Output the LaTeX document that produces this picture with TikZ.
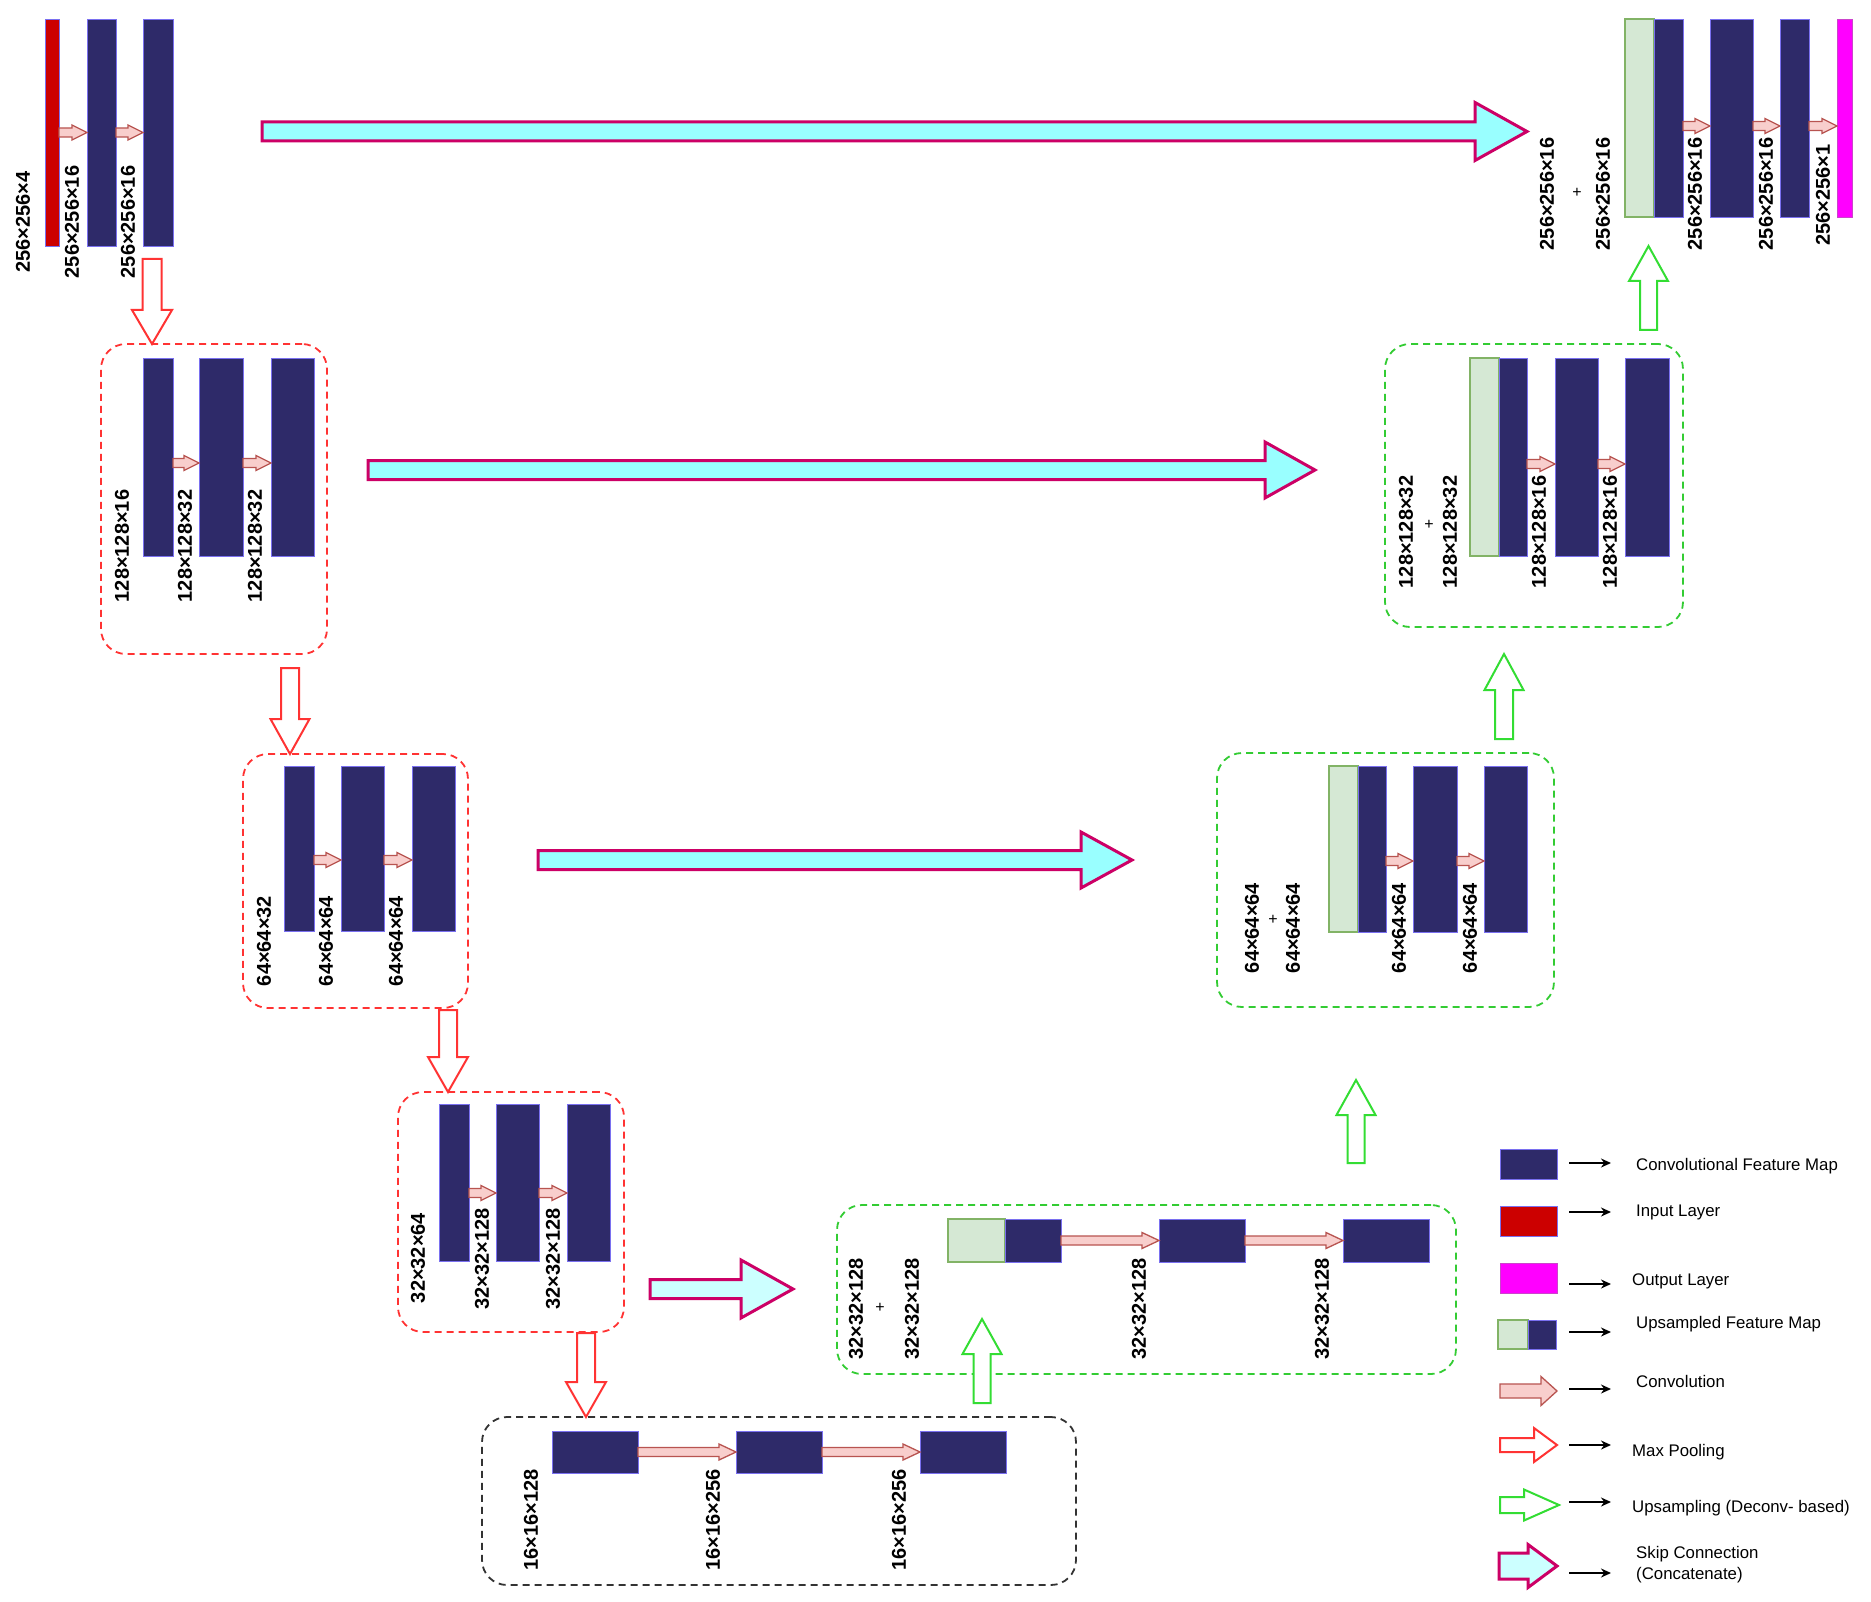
\documentclass[tikz,border=0pt]{standalone}
\usepackage{fontspec}
\setmainfont{Liberation Sans}
\usetikzlibrary{calc,arrows.meta}
\definecolor{navy}{HTML}{2E2A69}
\definecolor{fmline}{HTML}{7A70F0}
\definecolor{inred}{HTML}{CC0000}
\definecolor{outmag}{HTML}{FF00FF}
\definecolor{outline}{HTML}{CC44CC}
\definecolor{upfill}{HTML}{D5E8D4}
\definecolor{upline}{HTML}{82B366}
\definecolor{convfill}{HTML}{F8CECC}
\definecolor{convline}{HTML}{B85450}
\definecolor{poolline}{HTML}{FF3333}
\definecolor{upsline}{HTML}{33DD33}
\definecolor{skipline}{HTML}{CC0066}
\definecolor{skipfill}{HTML}{99FFFF}
\definecolor{skipfillb}{HTML}{CCFFFF}
\definecolor{boxred}{HTML}{FF3333}
\definecolor{boxgreen}{HTML}{33CC33}
\definecolor{boxblack}{HTML}{333333}
% block arrows: style, from, to(tip), shaft half, head half, head length
\newcommand\rarrow[6]{\draw[#1] let \p1=(#2), \p2=(#3) in (\x1,\y1+#4pt) -- (\x2-#6pt,\y1+#4pt) -- (\x2-#6pt,\y1+#5pt) -- (\x2,\y1) -- (\x2-#6pt,\y1-#5pt) -- (\x2-#6pt,\y1-#4pt) -- (\x1,\y1-#4pt) -- cycle;}
\newcommand\darrow[6]{\draw[#1] let \p1=(#2), \p2=(#3) in (\x1-#4pt,\y1) -- (\x1-#4pt,\y2+#6pt) -- (\x1-#5pt,\y2+#6pt) -- (\x1,\y2) -- (\x1+#5pt,\y2+#6pt) -- (\x1+#4pt,\y2+#6pt) -- (\x1+#4pt,\y1) -- cycle;}
\newcommand\uarrow[6]{\draw[#1] let \p1=(#2), \p2=(#3) in (\x1-#4pt,\y1) -- (\x1-#4pt,\y2-#6pt) -- (\x1-#5pt,\y2-#6pt) -- (\x1,\y2) -- (\x1+#5pt,\y2-#6pt) -- (\x1+#4pt,\y2-#6pt) -- (\x1+#4pt,\y1) -- cycle;}
\tikzset{
  bar/.style={draw=fmline, line width=0.8pt, inner sep=0pt, outer sep=0pt, anchor=north west},
  fm/.style={bar, fill=navy},
  inl/.style={bar, fill=inred},
  outl/.style={bar, fill=outmag, draw=outline},
  upm/.style={bar, fill=upfill, draw=upline, line width=1.2pt},
  sz/.style 2 args={minimum width=#1pt, minimum height=#2pt},
  grp/.style={draw, dash pattern=on 7pt off 5pt, line width=1.8pt, rounded corners=25pt, anchor=north west, inner sep=0pt, outer sep=0pt},
  redbox/.style={grp, draw=boxred},
  greenbox/.style={grp, draw=boxgreen},
  blackbox/.style={grp, draw=boxblack},
  convarr/.style={draw=convline, fill=convfill, line width=1.3pt},
  poolarr/.style={draw=poolline, fill=white, line width=2pt},
  upsarr/.style={draw=upsline, fill=white, line width=2pt},
  skiparr/.style={draw=skipline, fill=skipfill, line width=3pt},
  skiparrb/.style={draw=skipline, fill=skipfillb, line width=3pt},
  lbl/.style={rotate=90, inner sep=0pt, font=\bfseries\fontsize{20}{20}\selectfont},
  plus/.style={inner sep=0pt, font=\fontsize{16}{16}\selectfont},
  legtxt/.style={anchor=west, inner sep=0pt, font=\fontsize{16.8}{21}\selectfont, align=left},
  legarr/.style={-{Stealth[length=10pt,width=9pt]}, line width=1.8pt}
}
\begin{document}
\begin{tikzpicture}[x=1pt,y=-1pt]
\useasboundingbox (0,0) rectangle (1871,1602);
\fill[white] (0,0) rectangle (1871,1602);
% group boxes
\node[redbox, sz={226}{310}] (box1) at (101,344) {};
\node[redbox, sz={225}{254}] (box2) at (243,754) {};
\node[redbox, sz={226}{240}] (box3) at (398,1092) {};
\node[blackbox, sz={594}{168}] (box4) at (482,1417) {};
\node[greenbox, sz={619}{169}] (box5) at (837,1205) {};
\node[greenbox, sz={337}{254}] (box6) at (1217,753) {};
\node[greenbox, sz={298}{283}] (box7) at (1385,344) {};
% top left
\node[inl, sz={14}{227}] (in) at (45,19) {};
\node[fm, sz={29}{227}] (c01) at (87,19) {};
\node[fm, sz={30}{227}] (c02) at (143,19) {};
\node[lbl] (l01) at (23,222) {256×256×4};
\node[lbl] (l02) at (72,222) {256×256×16};
\node[lbl] (l03) at (128,222) {256×256×16};
% box1
\node[fm, sz={30}{198}] (b11) at (143,358) {};
\node[fm, sz={44}{198}] (b12) at (199,358) {};
\node[fm, sz={43}{198}] (b13) at (271,358) {};
\node[lbl] (l11) at (122,546) {128×128×16};
\node[lbl] (l12) at (185,546) {128×128×32};
\node[lbl] (l13) at (255,546) {128×128×32};
% box2
\node[fm, sz={30}{165}] (b21) at (284,766) {};
\node[fm, sz={43}{165}] (b22) at (341,766) {};
\node[fm, sz={43}{165}] (b23) at (412,766) {};
\node[lbl] (l21) at (264,941) {64×64×32};
\node[lbl] (l22) at (326,941) {64×64×64};
\node[lbl] (l23) at (396,941) {64×64×64};
% box3
\node[fm, sz={30}{157}] (b31) at (439,1104) {};
\node[fm, sz={43}{157}] (b32) at (496,1104) {};
\node[fm, sz={43}{157}] (b33) at (567,1104) {};
\node[lbl] (l31) at (418,1258) {32×32×64};
\node[lbl] (l32) at (482,1259) {32×32×128};
\node[lbl] (l33) at (553,1259) {32×32×128};
% box4
\node[fm, sz={86}{42}] (b41) at (552,1431) {};
\node[fm, sz={86}{42}] (b42) at (736,1431) {};
\node[fm, sz={86}{42}] (b43) at (920,1431) {};
\node[lbl] (l41) at (531,1520) {16×16×128};
\node[lbl] (l42) at (713,1520) {16×16×256};
\node[lbl] (l43) at (899,1520) {16×16×256};
% box5
\node[upm, sz={57}{43}] (u51) at (948,1219) {};
\node[fm, sz={56}{43}] (b51) at (1005,1219) {};
\node[fm, sz={86}{43}] (b52) at (1159,1219) {};
\node[fm, sz={86}{43}] (b53) at (1343,1219) {};
\node[lbl] (l51) at (856,1309) {32×32×128};
\node[plus] (pl5) at (880,1308) {+};
\node[lbl] (l52) at (912,1309) {32×32×128};
\node[lbl] (l53) at (1139,1309) {32×32×128};
\node[lbl] (l54) at (1322,1309) {32×32×128};
% box6
\node[upm, sz={29}{166}] (u61) at (1329,766) {};
\node[fm, sz={28}{166}] (b61) at (1358,766) {};
\node[fm, sz={44}{166}] (b62) at (1413,766) {};
\node[fm, sz={43}{166}] (b63) at (1484,766) {};
\node[lbl] (l61) at (1252,928) {64×64×64};
\node[plus] (pl6) at (1273,920) {+};
\node[lbl] (l62) at (1293,928) {64×64×64};
\node[lbl] (l63) at (1399,928) {64×64×64};
\node[lbl] (l64) at (1470,928) {64×64×64};
% box7
\node[upm, sz={29}{198}] (u71) at (1470,358) {};
\node[fm, sz={28}{198}] (b71) at (1499,358) {};
\node[fm, sz={43}{198}] (b72) at (1555,358) {};
\node[fm, sz={44}{198}] (b73) at (1625,358) {};
\node[lbl] (l71) at (1406,532) {128×128×32};
\node[plus] (pl7) at (1429,525) {+};
\node[lbl] (l72) at (1450,532) {128×128×32};
\node[lbl] (l73) at (1539,532) {128×128×16};
\node[lbl] (l74) at (1610,532) {128×128×16};
% top right
\node[upm, sz={29}{198}] (u81) at (1625,19) {};
\node[fm, sz={29}{198}] (b81) at (1654,19) {};
\node[fm, sz={43}{198}] (b82) at (1710,19) {};
\node[fm, sz={29}{198}] (b83) at (1780,19) {};
\node[outl, sz={15}{198}] (out) at (1837,19) {};
\node[lbl] (l81) at (1547,194) {256×256×16};
\node[plus] (pl8) at (1577,193) {+};
\node[lbl] (l82) at (1603,194) {256×256×16};
\node[lbl] (l83) at (1695,194) {256×256×16};
\node[lbl] (l84) at (1766,194) {256×256×16};
\node[lbl] (l85) at (1823,195) {256×256×1};
% convolution arrows
\rarrow{convarr}{in.east}{c01.west}{4.5}{7.5}{15}
\rarrow{convarr}{c01.east}{c02.west}{4.5}{7.5}{15}
\rarrow{convarr}{[yshift=-6pt]b11.east}{b12.west}{4.5}{7.5}{15}
\rarrow{convarr}{[yshift=-6pt]b12.east}{b13.west}{4.5}{7.5}{15}
\rarrow{convarr}{[yshift=-11.5pt]b21.east}{b22.west}{4.5}{7.5}{15}
\rarrow{convarr}{[yshift=-11.5pt]b22.east}{b23.west}{4.5}{7.5}{15}
\rarrow{convarr}{[yshift=-10.5pt]b31.east}{b32.west}{4.5}{7.5}{15}
\rarrow{convarr}{[yshift=-10.5pt]b32.east}{b33.west}{4.5}{7.5}{15}
\rarrow{convarr}{b41.east}{b42.west}{4.5}{8}{17}
\rarrow{convarr}{b42.east}{b43.west}{4.5}{8}{17}
\rarrow{convarr}{b51.east}{b52.west}{4.5}{8}{17}
\rarrow{convarr}{b52.east}{b53.west}{4.5}{8}{17}
\rarrow{convarr}{[yshift=-12pt]b61.east}{b62.west}{4.5}{7.5}{15}
\rarrow{convarr}{[yshift=-12pt]b62.east}{b63.west}{4.5}{7.5}{15}
\rarrow{convarr}{[yshift=-7pt]b71.east}{b72.west}{4.5}{7.5}{15}
\rarrow{convarr}{[yshift=-7pt]b72.east}{b73.west}{4.5}{7.5}{15}
\rarrow{convarr}{[yshift=-8pt]b81.east}{b82.west}{4.5}{7.5}{15}
\rarrow{convarr}{[yshift=-8pt]b82.east}{b83.west}{4.5}{7.5}{15}
\rarrow{convarr}{[yshift=-8pt]b83.east}{out.west}{4.5}{7.5}{15}
% skip connections
\coordinate (s1) at (262,131.5);
\coordinate (s2) at (368,470);
\coordinate (s3) at (538,860);
\coordinate (s4) at (650,1289);
\rarrow{skiparr}{s1}{[xshift=-98pt]u81.west}{9.5}{29}{52}
\rarrow{skiparr}{s2}{[xshift=-70pt]box7.west}{9.5}{28}{50}
\rarrow{skiparr}{s3}{[xshift=-85pt]box6.west}{9.5}{28}{51}
\rarrow{skiparrb}{s4}{[xshift=-44pt]box5.west}{9.5}{29}{52}
% max pooling
\coordinate (p1) at (152,259);
\coordinate (p2) at (290,668);
\coordinate (p3) at (448,1010);
\coordinate (p4) at (586,1333);
\darrow{poolarr}{p1}{box1.north}{9.5}{20}{34}
\darrow{poolarr}{p2}{box2.north}{9}{19.5}{35}
\darrow{poolarr}{p3}{box3.north}{9}{20}{35}
\darrow{poolarr}{p4}{box4.north}{9}{20}{35}
% upsampling
\coordinate (q1) at (982,1403);
\coordinate (q2) at (1356,1163);
\coordinate (q3) at (1504,739);
\coordinate (q4) at (1648.5,330);
\uarrow{upsarr}{q1}{[yshift=55pt]box5.south}{8.5}{19.5}{35}
\uarrow{upsarr}{q2}{[yshift=-73pt]box6.south}{8.5}{19.5}{35}
\uarrow{upsarr}{q3}{[yshift=-27pt]box7.south}{9}{19.5}{36}
\uarrow{upsarr}{q4}{[yshift=-29pt]u81.south}{8.5}{19.5}{35}
% legend
\node[fm, sz={57}{30}] (lg1) at (1500,1149) {};
\node[inl, sz={57}{30}] (lg2) at (1500,1206) {};
\node[outl, sz={57}{30}] (lg3) at (1500,1263) {};
\node[upm, sz={30}{29}] (lg4a) at (1498,1320) {};
\node[fm, sz={28}{29}] (lg4b) at (1528,1320) {};
\coordinate (lg5a) at (1500,1391); \coordinate (lg5b) at (1557,1391);
\coordinate (lg6a) at (1500,1445); \coordinate (lg6b) at (1557,1445);
\coordinate (lg7a) at (1500,1505); \coordinate (lg7b) at (1559,1505);
\coordinate (lg8a) at (1499,1566); \coordinate (lg8b) at (1557,1566);
\rarrow{convarr}{lg5a}{lg5b}{7}{14.5}{16}
\rarrow{poolarr}{lg6a}{lg6b}{7}{17}{23}
\rarrow{upsarr}{lg7a}{lg7b}{8}{15.5}{35}
\rarrow{skiparrb}{lg8a}{lg8b}{13}{21.5}{29}
\foreach \yy [count=\i] in {1163,1212,1284,1332,1389,1445,1502,1573}
  {\coordinate (la\i) at (1569,\yy); \draw[legarr] (la\i) -- ++(42,0);}
\node[legtxt] (t1) at (1636,1166) {Convolutional Feature Map};
\node[legtxt] (t2) at (1636,1212) {Input Layer};
\node[legtxt] (t3) at (1632,1281) {Output Layer};
\node[legtxt] (t4) at (1636,1324) {Upsampled Feature Map};
\node[legtxt] (t5) at (1636,1381) {Convolution};
\node[legtxt] (t6) at (1632,1452) {Max Pooling};
\node[legtxt] (t7) at (1632,1508) {Upsampling (Deconv- based)};
\node[legtxt] (t8) at (1636,1565) {Skip Connection\\(Concatenate)};
\end{tikzpicture}
\end{document}
